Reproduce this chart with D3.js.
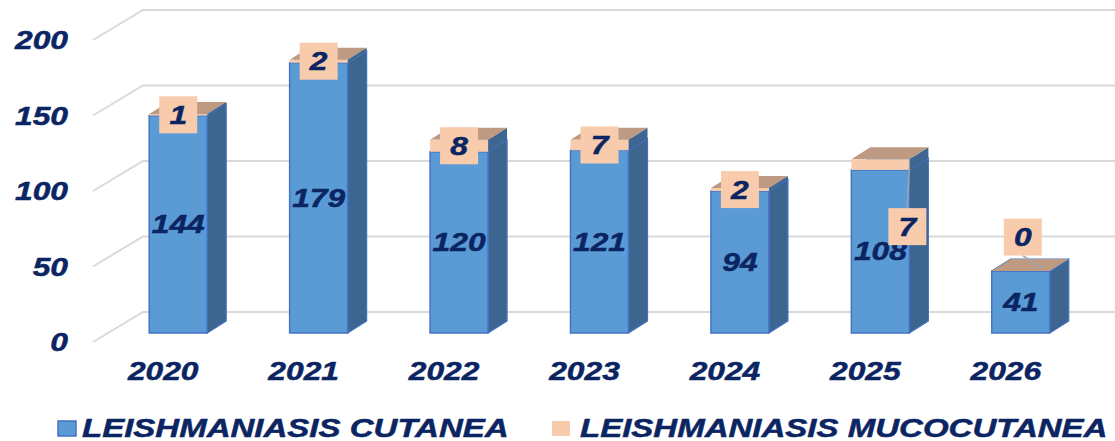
<!DOCTYPE html>
<html>
<head>
<meta charset="utf-8">
<script src="https://cdn.jsdelivr.net/npm/d3@7"></script>
<style>
  html, body { margin: 0; padding: 0; background: #ffffff; }
  svg { display: block; }
  text { font-family: "Liberation Sans", Arial, sans-serif; font-weight: bold; font-style: italic; fill: #0b2563; stroke: #0b2563; stroke-width: 0.5px; }
</style>
</head>
<body>
<svg id="chart" width="1115" height="441"></svg>
<script>
// Cases per year, two series stacked
const years = ["2020", "2021", "2022", "2023", "2024", "2025", "2026"];
const cutanea = [144, 179, 120, 121, 94, 108, 41];
const mucocutanea = [1, 2, 8, 7, 2, 7, 0];
const yTicks = [0, 50, 100, 150, 200];
const seriesNames = ["LEISHMANIASIS CUTANEA", "LEISHMANIASIS MUCOCUTANEA"];

const W = 1115, H = 441;
const svg = d3.select("#chart");

// 3D projection: floor front plane plus depth offset toward the back wall
const wallDX = 50, wallDY = -30;           // full depth of the plot box
const barDepthStart = 0.3;                // bars sit a bit behind the front edge
const barDX = 19, barDY = -12;            // depth of a single column
const SX = 1.27;                          // horizontal stretch of the lettering

const x = d3.scaleBand().domain(years).range([93, 1076]);
const y = d3.scaleLinear().domain([0, 200]).range([342, 40]);

const colors = {
  blueFront: "#5b9bd5", blueSide: "#3c6690", blueTop: "#7fb0de", blueEdge: "#4472c4",
  peachFront: "#f8cbad", peachSide: "#3f6690", peachTop: "#bf9a82",
  grid: "#d9d9d9", leader: "#a6a6a6"
};

function stretchedText(sel, tx, ty, str, size, anchor) {
  return sel.append("text")
    .attr("transform", `translate(${tx},${ty}) scale(${SX},1)`)
    .attr("text-anchor", anchor || "middle")
    .style("font-size", size + "px")
    .text(str);
}

// Back wall gridlines: diagonal along the side wall, then across the back
const gridG = svg.append("g");
yTicks.forEach(t => {
  const fy = y(t);
  const x0 = x.range()[0];
  gridG.append("path")
    .attr("d", `M${x0},${fy} L${x0 + wallDX},${fy + wallDY} L${W + 5},${fy + wallDY}`)
    .attr("fill", "none")
    .attr("stroke", colors.grid)
    .attr("stroke-width", 2);
});

// Value axis labels
const axisG = svg.append("g");
yTicks.forEach(t => {
  stretchedText(axisG, 68, y(t) + 9, String(t), 25, "end");
});

// Category labels along the front edge of the floor
const catG = svg.append("g");
years.forEach(yr => {
  stretchedText(catG, x(yr) + x.bandwidth() / 2, 380, yr, 25, "middle");
});

// Columns
const barW = x.bandwidth() * 0.413;
const offX = wallDX * barDepthStart, offY = wallDY * barDepthStart;
const barsG = svg.append("g");

function box3d(g, x1, yTop, yBot, front, side, top, edge) {
  const x2 = x1 + barW;
  g.append("path")
    .attr("d", `M${x2},${yBot} L${x2 + barDX},${yBot + barDY} L${x2 + barDX},${yTop + barDY} L${x2},${yTop} Z`)
    .attr("fill", side).attr("stroke", edge || "none").attr("stroke-width", 1.2).attr("stroke-linejoin", "round");
  g.append("path")
    .attr("d", `M${x1},${yTop} L${x1 + barDX},${yTop + barDY} L${x2 + barDX},${yTop + barDY} L${x2},${yTop} Z`)
    .attr("fill", top).attr("stroke", edge || "none").attr("stroke-width", 1.2).attr("stroke-linejoin", "round");
  g.append("rect")
    .attr("x", x1).attr("y", yTop).attr("width", barW).attr("height", Math.max(0, yBot - yTop))
    .attr("fill", front).attr("stroke", edge || "none").attr("stroke-width", 1.5);
}

const geo = years.map((yr, i) => {
  const cx = x(yr) + x.bandwidth() / 2 + offX;
  const x1 = cx - barW / 2;
  const base = y(0) + offY;
  const blueTop = y(cutanea[i]) + offY;
  const peachTop = y(cutanea[i] + mucocutanea[i]) + offY;
  return { yr, i, cx, x1, base, blueTop, peachTop };
});

geo.forEach(d => {
  const g = barsG.append("g");
  box3d(g, d.x1, d.blueTop, d.base, colors.blueFront, colors.blueSide, colors.blueTop, colors.blueEdge);
  box3d(g, d.x1, d.peachTop, d.blueTop, colors.peachFront, colors.peachSide, colors.peachTop, null);
});

// Labels for the lower series, centred in each column
const lblG = svg.append("g");
geo.forEach(d => {
  stretchedText(lblG, d.cx, (d.base + d.blueTop) / 2 + 9, String(cutanea[d.i]), 25, "middle");
});

// Labels for the upper series in peach boxes; two of them are pulled aside with a leader
const labelShift = { "2025": [27, 62], "2026": [2, -34] };
geo.forEach(d => {
  const ax = d.cx, ay = (d.blueTop + d.peachTop) / 2;
  const sh = labelShift[d.yr] || [0, 0];
  const bx = ax + sh[0], by = ay + sh[1];
  const bw = 38, bh = 37;
  if (labelShift[d.yr]) {
    let lx, ly, ex, ey;
    if (sh[1] > 0) { lx = bx; ly = by - bh / 2; ex = d.x1 + barW; ey = ay + 2; }
    else { lx = bx; ly = by + bh / 2; ex = ax + barDX * 1.2; ey = d.peachTop + barDY * 0.2; }
    lblG.append("line")
      .attr("x1", lx).attr("y1", ly).attr("x2", ex).attr("y2", ey)
      .attr("stroke", colors.leader).attr("stroke-width", 1.5);
  }
  lblG.append("rect")
    .attr("x", bx - bw / 2).attr("y", by - bh / 2).attr("width", bw).attr("height", bh)
    .attr("fill", colors.peachFront);
  stretchedText(lblG, bx, by + 9, String(mucocutanea[d.i]), 25, "middle");
});

// Legend
const legG = svg.append("g");
const legendItems = [
  { name: seriesNames[0], sx: 58, tx: 82, fill: colors.blueFront, edge: colors.blueEdge },
  { name: seriesNames[1], sx: 552, tx: 580, fill: colors.peachFront, edge: null }
];
legendItems.forEach(it => {
  legG.append("rect")
    .attr("x", it.sx).attr("y", 421).attr("width", 18).attr("height", 15)
    .attr("fill", it.fill).attr("stroke", it.edge || "none").attr("stroke-width", 1.5);
  stretchedText(legG, it.tx, 437, it.name, 26, "start");
});
</script>
</body>
</html>
